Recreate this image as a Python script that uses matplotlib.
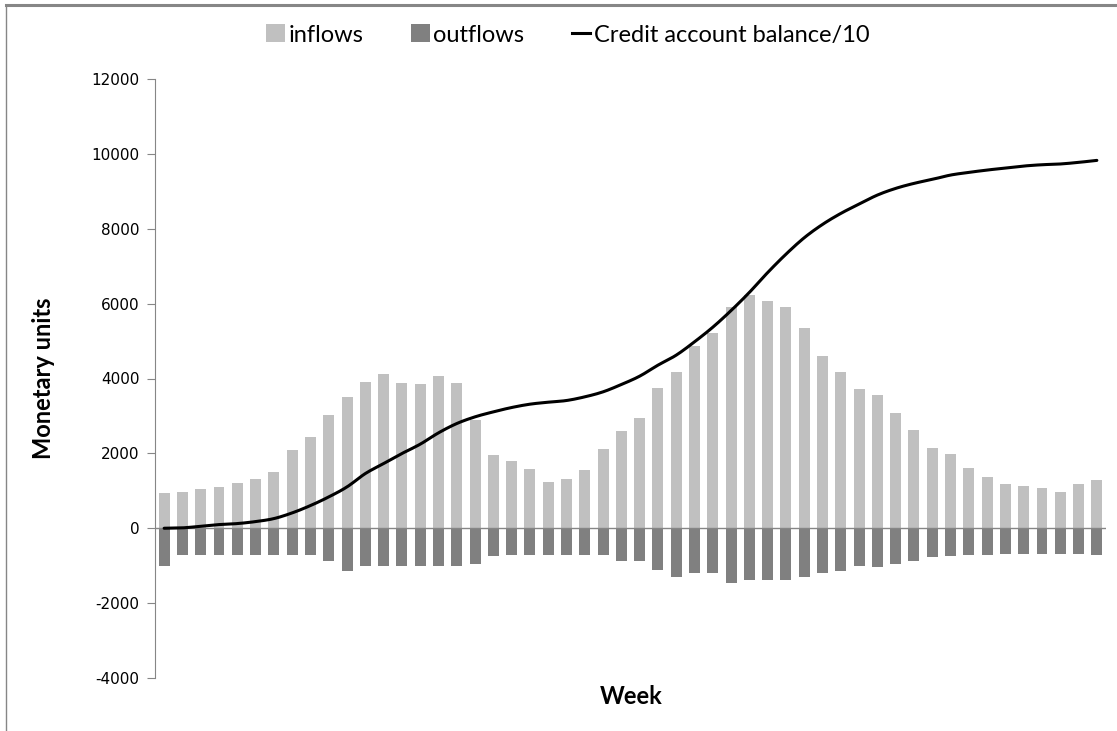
import matplotlib
matplotlib.use("Agg")
import matplotlib.pyplot as plt
from matplotlib.lines import Line2D
from matplotlib.patches import Patch
import numpy as np

weeks = list(range(1, 53))

inflows = [944, 971, 1051, 1105, 1211, 1318, 1506, 2094, 2441, 3029,
           3510, 3911, 4125, 3884, 3857, 4071, 3884, 2895, 1960, 1800,
           1586, 1238, 1318, 1559, 2120, 2601, 2949, 3751, 4178, 4864,
           5212, 5906, 6227, 6067, 5906, 5345, 4597, 4169, 3715, 3563,
           3082, 2628, 2147, 1987, 1612, 1372, 1185, 1131, 1078, 971,
           1185, 1292]

outflows = [-998, -704, -704, -704, -704, -704, -704, -704, -704, -864,
            -1131, -998, -998, -998, -998, -998, -998, -944, -730, -704,
            -704, -704, -704, -704, -704, -864, -864, -1105, -1292, -1185,
            -1194, -1461, -1390, -1390, -1390, -1301, -1185, -1131, -998, -1025,
            -944, -864, -757, -730, -704, -704, -690, -680, -677, -677,
            -677, -704]

balance_div10 = [0, 10, 53, 98, 125, 178, 258, 410, 606, 837,
                 1105, 1461, 1728, 1996, 2245, 2548, 2797, 2976, 3109, 3225,
                 3314, 3367, 3412, 3510, 3644, 3840, 4062, 4356, 4624, 4980,
                 5370, 5815, 6300, 6830, 7320, 7760, 8116, 8410, 8659, 8900,
                 9078, 9212, 9318, 9434, 9505, 9568, 9621, 9675, 9710, 9730,
                 9773, 9826]

yticks = list(range(-4000, 12001, 2000))


def smooth_curve(xs, ys, steps=12):
    """Catmull-Rom rendering of a smoothed line through the given points."""
    xs = np.asarray(xs, float)
    ys = np.asarray(ys, float)
    px = np.concatenate([[2 * xs[0] - xs[1]], xs, [2 * xs[-1] - xs[-2]]])
    py = np.concatenate([[2 * ys[0] - ys[1]], ys, [2 * ys[-1] - ys[-2]]])
    outx, outy = [], []
    t = np.linspace(0, 1, steps, endpoint=False)
    for i in range(1, len(px) - 2):
        for arr, out in ((px, outx), (py, outy)):
            p0, p1, p2, p3 = arr[i - 1], arr[i], arr[i + 1], arr[i + 2]
            out.extend(0.5 * ((2 * p1) + (-p0 + p2) * t
                              + (2 * p0 - 5 * p1 + 4 * p2 - p3) * t ** 2
                              + (-p0 + 3 * p1 - 3 * p2 + p3) * t ** 3))
    outx.append(xs[-1])
    outy.append(ys[-1])
    return np.array(outx), np.array(outy)


W, H = 1117, 731
fig = plt.figure(figsize=(W / 100, H / 100), dpi=100)
fig.patch.set_facecolor("white")

# outer chart frame (top and left edges visible)
fig.add_artist(Line2D([6 / W, 1.0], [1 - 5 / H, 1 - 5 / H], transform=fig.transFigure,
                      color="#868686", lw=2.2))
fig.add_artist(Line2D([6 / W, 6 / W], [0, 1 - 5 / H], transform=fig.transFigure,
                      color="#868686", lw=1.0))

ax = fig.add_axes([155 / W, (H - 678) / H, (1106 - 155) / W, (678 - 79) / H])
x = np.arange(len(weeks))
ax.bar(x, inflows, width=0.6, color="#C0C0C0", zorder=2)
ax.bar(x, outflows, width=0.6, color="#808080", zorder=2)
ax.axhline(0, color="#868686", lw=1.0, zorder=3)
sx, sy = smooth_curve(x, balance_div10)
ax.plot(sx, sy, color="black", lw=2.2, zorder=4, solid_capstyle="round")

ax.set_xlim(-0.5, len(weeks) - 0.5)
ax.set_ylim(-4000, 12000)
ax.set_yticks(yticks)
ax.set_yticklabels([str(v) for v in yticks], fontsize=11, family="DejaVu Sans")
ax.set_xticks([])
for s in ["top", "right", "bottom"]:
    ax.spines[s].set_visible(False)
ax.spines["left"].set_color("#868686")
ax.tick_params(axis="y", direction="out", length=6, color="#868686", pad=5)

font = ["Lato", "DejaVu Sans"]
ax.set_ylabel("Monetary units", fontsize=17, fontweight="bold", family=font)
ax.yaxis.set_label_coords((55 - 155) / 951, 0.5)
fig.text(631 / W, 1 - 697 / H, "Week", ha="center", va="center", fontsize=17,
         fontweight="bold", family=font)

handles = [Patch(facecolor="#C0C0C0", label="inflows"),
           Patch(facecolor="#808080", label="outflows"),
           Line2D([0], [0], color="black", lw=2.2, label="Credit account balance/10")]
fig.legend(handles=handles, loc="center", bbox_to_anchor=(568 / W, 1 - 35 / H), ncol=3,
           frameon=False, prop={"family": font, "size": 17}, handlelength=0.8,
           handleheight=0.8, handletextpad=0.15, columnspacing=2.0)

fig.savefig("out.png", dpi=100)
